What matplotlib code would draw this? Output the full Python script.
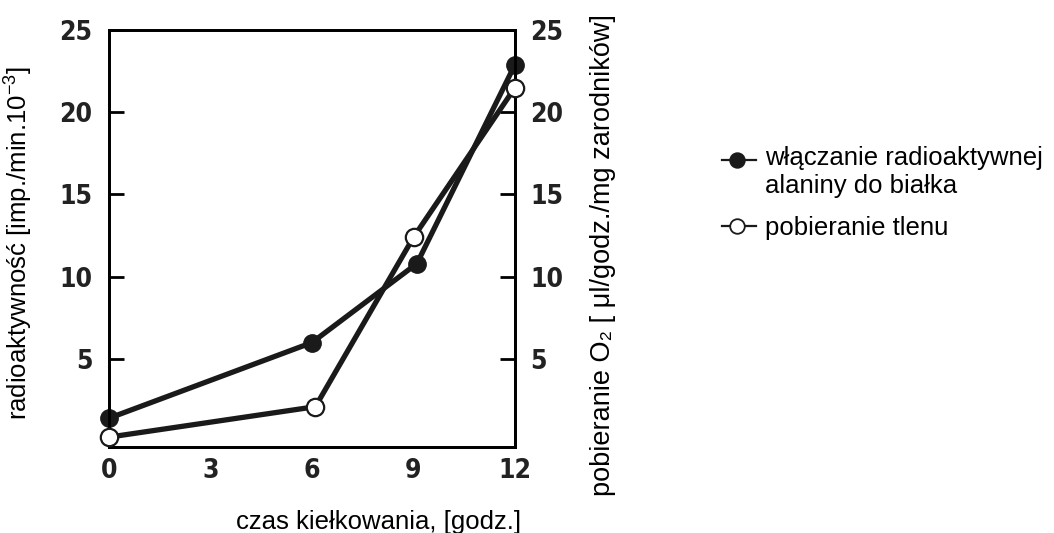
import matplotlib
matplotlib.use("Agg")
import matplotlib.pyplot as plt
from matplotlib.lines import Line2D

# hours of germination
alanine_x = [0, 6.0, 9.1, 12]
alanine = [1.4, 6.0, 10.8, 22.9]      # radioactivity [imp./min.10^-3]
oxygen_x = [0, 6.1, 9.0, 12]
oxygen = [0.25, 2.1, 12.4, 21.5]      # O2 uptake

x_ticks = [0, 3, 6, 9, 12]
y_ticks = [5, 10, 15, 20, 25]

label_font = ['Liberation Sans', 'DejaVu Sans']
fs = 18.5

plt.rcParams['mathtext.fontset'] = 'custom'
plt.rcParams['mathtext.rm'] = 'Liberation Sans'

fig = plt.figure(figsize=(10.54, 5.33), dpi=100)
ax = fig.add_axes([109 / 1054, 1 - 447 / 533, 406 / 1054, 417 / 533])
ax2 = ax.twinx()

for a in (ax, ax2):
    a.set_xlim(0, 12)
    a.set_ylim(-0.35, 25)
    for s in a.spines.values():
        s.set_linewidth(2.0)

ax.plot(alanine_x, alanine, color='#1a1a1a', lw=3.8, marker='o', ms=12.5,
        mfc='#1a1a1a', mec='#1a1a1a', clip_on=False, zorder=5)
ax2.plot(oxygen_x, oxygen, color='#1a1a1a', lw=3.8, marker='o', ms=12.5,
         mfc='white', mec='#1a1a1a', mew=1.6, clip_on=False, zorder=6)

ax.set_xticks(x_ticks)
ax.set_yticks(y_ticks)
ax2.set_yticks(y_ticks)

ax.tick_params(axis='both', direction='in', length=11, width=2,
               labelsize=19)
ax.tick_params(axis='y', pad=12)
ax.tick_params(axis='x', pad=8)
ax2.tick_params(axis='y', direction='in', length=11, width=2,
                labelsize=19, pad=11)

# no tick marks at the corners
for t in ax.xaxis.get_major_ticks():
    if t.get_loc() in (0, 12):
        t.tick1line.set_visible(False)
for a in (ax, ax2):
    for t in a.yaxis.get_major_ticks():
        if t.get_loc() == 25:
            t.tick1line.set_visible(False)
            t.tick2line.set_visible(False)

for lab in ax.get_xticklabels() + ax.get_yticklabels() + ax2.get_yticklabels():
    lab.set_family('DejaVu Sans')
    lab.set_fontstretch('condensed')
    lab.set_fontweight('bold')
    lab.set_color('#222222')

ax.set_ylabel('radioaktywność [imp./min.10$^{-3}$]', fontsize=fs, family=label_font)
ax.yaxis.set_label_coords(-0.185, 0.49)
ax2.set_ylabel('pobieranie O\u2082 [ μl/godz./mg zarodników]', fontsize=19.5,
               family=label_font)
ax2.yaxis.set_label_coords(1.185, 0.46)
ax.set_xlabel('czas kiełkowania, [godz.]', fontsize=fs, family=label_font)
ax.xaxis.set_label_coords(0.663, -0.15)

# legend drawn by hand so the marker lines up with the first text line
def legend_entry(y, filled):
    yf = 1 - y / 533
    fig.add_artist(Line2D([722 / 1054, 756 / 1054], [yf, yf], color='#1a1a1a',
                          lw=1.6, transform=fig.transFigure))
    fig.add_artist(Line2D([737 / 1054], [yf], marker='o', ms=10.5,
                          mfc='#1a1a1a' if filled else 'white', mec='#1a1a1a',
                          mew=1.3, transform=fig.transFigure))

legend_entry(160, True)
legend_entry(226, False)
fig.text(765 / 1054, 1 - 158 / 533, 'włączanie radioaktywnej', fontsize=fs,
         family=label_font, va='center')
fig.text(765 / 1054, 1 - 186 / 533, 'alaniny do białka', fontsize=fs,
         family=label_font, va='center')
fig.text(765 / 1054, 1 - 228 / 533, 'pobieranie tlenu', fontsize=fs,
         family=label_font, va='center')

fig.savefig('out.png', dpi=100, facecolor='white')
